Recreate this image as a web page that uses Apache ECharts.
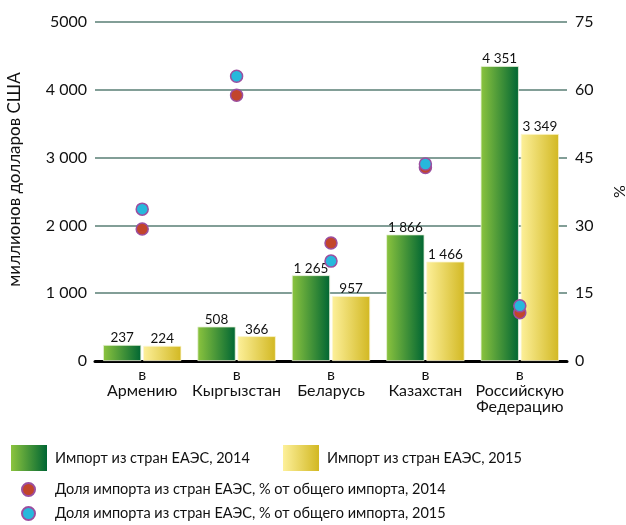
<!DOCTYPE html>
<html><head><meta charset="utf-8">
<script src="https://cdn.jsdelivr.net/npm/echarts@6/dist/echarts.min.js"></script>
<style>html,body{margin:0;padding:0;background:#fff}#c{width:626px;height:525px}</style>
</head><body><div id="c"></div>
<script>
const categories = ["в\nАрмению", "в\nКыргызстан", "в\nБеларусь", "в\nКазахстан", "в\nРоссийскую\nФедерацию"];
const import2014 = [237, 508, 1265, 1866, 4351];
const import2015 = [224, 366, 957, 1466, 3349];
const share2014 = [29.2, 58.8, 26.1, 42.8, 10.7];
const share2015 = [33.6, 63.0, 22.1, 43.6, 12.2];
const leftTicks = {0: "0", 1000: "1 000", 2000: "2 000", 3000: "3 000", 4000: "4 000", 5000: "5000"};
const names = ["Импорт из стран ЕАЭС, 2014", "Импорт из стран ЕАЭС, 2015",
  "Доля импорта из стран ЕАЭС, % от общего импорта, 2014", "Доля импорта из стран ЕАЭС, % от общего импорта, 2015"];

const FONT = "Lato";
const fmt = v => String(v).replace(/\B(?=(\d{3})+(?!\d))/g, " ");
const green = new echarts.graphic.LinearGradient(0,0,1,0,[{offset:0,color:"#8cc43e"},{offset:1,color:"#006633"}]);
const yellow = new echarts.graphic.LinearGradient(0,0,1,0,[{offset:0,color:"#fdf09a"},{offset:1,color:"#d2b822"}]);
const chart = echarts.init(document.getElementById('c'));
const legText = {fontFamily: FONT, fontSize: 14.5, color: "#111", padding: [0, 0, 0, 3]};
const legText2 = Object.assign({}, legText, {padding: [0, 0, 0, 15]});
const legBase = {padding: 0, selectedMode: false};
chart.setOption({
  animation: false,
  textStyle: {fontFamily: FONT},
  grid: {left: 95, right: 59, top: 22, bottom: 164, containLabel: false, outerBoundsMode: 'none'},
  legend: [
    Object.assign({data: [{name: names[0], icon: 'rect'}], left: 11, top: 445, itemWidth: 36, itemHeight: 26, textStyle: legText, itemStyle: {borderWidth: 0}}, legBase),
    Object.assign({data: [{name: names[1], icon: 'rect'}], left: 283, top: 445, itemWidth: 36, itemHeight: 26, textStyle: legText, itemStyle: {borderWidth: 0}}, legBase),
    Object.assign({data: [names[2]], left: 21, top: 482, itemWidth: 13, itemHeight: 13, textStyle: legText2}, legBase),
    Object.assign({data: [names[3]], left: 21, top: 506, itemWidth: 13, itemHeight: 13, textStyle: legText2}, legBase)
  ],
  xAxis: {
    type: 'category', data: categories,
    axisLine: {lineStyle: {color: "#000", width: 3}},
    axisTick: {show: false},
    axisLabel: {color: "#111", fontSize: 16, lineHeight: 16, margin: 6, interval: 0}
  },
  yAxis: [
    {type: 'value', min: 0, max: 5000, interval: 1000,
     name: "миллионов долларов США", nameLocation: 'middle', nameGap: 72, nameRotate: 90,
     nameTextStyle: {fontSize: 17, color: "#111", padding: [0, 0, 0, 24]},
     axisLabel: {color: "#111", fontSize: 16, margin: 8, formatter: v => leftTicks[v]},
     axisLine: {show: false}, axisTick: {show: false},
     splitLine: {lineStyle: {color: "#829e97", width: 2}}},
    {type: 'value', min: 0, max: 75, interval: 15,
     name: "%", nameLocation: 'middle', nameGap: 45, nameRotate: 90,
     nameTextStyle: {fontSize: 16, color: "#111"},
     axisLabel: {color: "#111", fontSize: 16, margin: 8},
     axisLine: {show: false}, axisTick: {show: false}, splitLine: {show: false}}
  ],
  series: [
    {name: names[0], type: 'bar', data: import2014, barGap: '5%', barCategoryGap: '17%',
     itemStyle: {color: green, borderColor: "#e8f2d8", borderWidth: 0.8},
     label: {show: true, position: 'top', distance: 0, fontSize: 13.5, color: "#111", formatter: p => fmt(p.value)}},
    {name: names[1], type: 'bar', data: import2015,
     itemStyle: {color: yellow, borderColor: "#fbf6d0", borderWidth: 0.8},
     label: {show: true, position: 'top', distance: 0, fontSize: 13.5, color: "#111", formatter: p => fmt(p.value)}},
    {name: names[2], type: 'scatter', yAxisIndex: 1, data: share2014, symbolSize: 12,
     itemStyle: {color: "#c2452b", borderColor: "#9b4fa0", borderWidth: 1.5, opacity: 1}},
    {name: names[3], type: 'scatter', yAxisIndex: 1, data: share2015, symbolSize: 12,
     itemStyle: {color: "#27b8dc", borderColor: "#9b4fa0", borderWidth: 1.5, opacity: 1}}
  ]
});
</script></body></html>
